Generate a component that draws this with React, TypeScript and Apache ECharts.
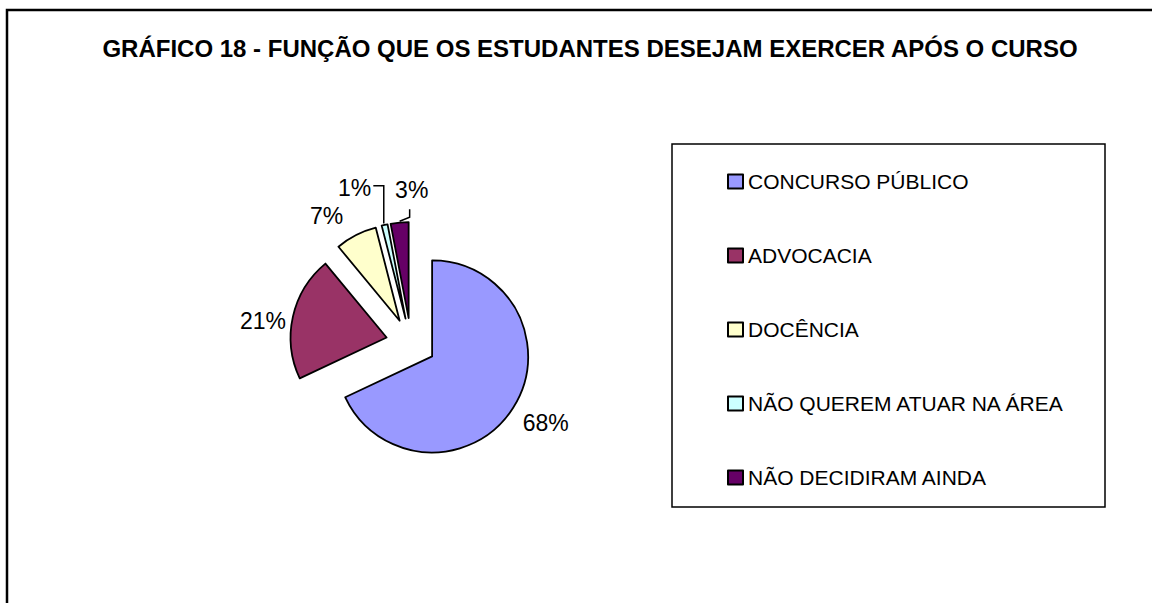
import React, { useEffect, useRef } from "react";
import * as echarts from "echarts";

const TITLE = "GRÁFICO 18 - FUNÇÃO QUE OS ESTUDANTES DESEJAM EXERCER APÓS O CURSO";
const categories = [
  "CONCURSO PÚBLICO",
  "ADVOCACIA",
  "DOCÊNCIA",
  "NÃO QUEREM ATUAR NA ÁREA",
  "NÃO DECIDIRAM AINDA",
];
const values = [68, 21, 7, 1, 3];
const colors = ["#9999FF", "#993366", "#FFFFCC", "#CCFFFF", "#660066"];
// label line tuning per slice: [length, length2, showLine]
const labelTuning: [number, number, boolean][] = [
  [29, -20, false],
  [-20, 21.5, false],
  [21.5, -2, false],
  [38, 0, true],
  [32.7, -36.8, true],
];

const FONT = "'Liberation Sans', Arial, Helvetica, sans-serif";

export default function App() {
  const ref = useRef<HTMLDivElement>(null);
  useEffect(() => {
    if (!ref.current) return;
    const chart = echarts.init(ref.current, null, { renderer: "svg" });
    const data = categories.map((name, i) => ({
      name,
      value: values[i],
      selected: true,
      itemStyle: { color: colors[i] },
      labelLine: {
        show: labelTuning[i][2],
        length: labelTuning[i][0],
        length2: labelTuning[i][1],
        lineStyle: { color: "#000", width: 1.5 },
      },
    }));
    chart.setOption({
      animation: false,
      backgroundColor: "#fff",
      graphic: [
        {
          type: "rect",
          shape: { x: 7, y: 10, width: 1170, height: 620 },
          style: { fill: "none", stroke: "#000", lineWidth: 2.5 },
          silent: true,
        },
        {
          type: "rect",
          shape: { x: 672, y: 144, width: 433, height: 363 },
          style: { fill: "none", stroke: "#000", lineWidth: 1.5 },
          silent: true,
        },
        {
          type: "text",
          x: 590,
          y: 48,
          style: {
            text: TITLE,
            align: "center",
            verticalAlign: "middle",
            font: `bold 24px ${FONT}`,
            fill: "#000",
          },
        },
      ],
      legend: {
        orient: "vertical",
        left: 727,
        top: 171,
        padding: 0,
        itemGap: 53,
        itemWidth: 15,
        itemHeight: 14,
        icon: "rect",
        selectedMode: false,
        data: categories,
        textStyle: {
          fontFamily: FONT,
          fontSize: 21,
          lineHeight: 21,
          color: "#000",
        },
      },
      series: [
        {
          type: "pie",
          center: [411, 343],
          radius: 96,
          startAngle: 90,
          clockwise: true,
          selectedMode: "multiple",
          selectedOffset: 25,
          avoidLabelOverlap: false,
          emphasis: { disabled: true, scale: false },
          itemStyle: { borderColor: "#000", borderWidth: 1.8 },
          label: {
            show: true,
            position: "outside",
            formatter: "{d}%",
            fontFamily: FONT,
            fontSize: 23,
            color: "#000",
            distanceToLabelLine: 5,
          },
          labelLayout: (params: any) => {
            const r = params.rect;
            const lr = params.labelRect;
            if (params.dataIndex === 3) {
              const x = r.x + 3;
              const y = lr.y + lr.height / 2 - 2;
              return {
                labelLinePoints: [
                  [x, r.y],
                  [x, y],
                  [lr.x + lr.width + 2, y],
                ],
              };
            }
            if (params.dataIndex === 4) {
              const x = r.x + r.width / 2;
              return {
                labelLinePoints: [
                  [x, r.y],
                  [x + 10, r.y - 4],
                  [x + 10, r.y - 12],
                ],
              };
            }
            return {};
          },
          data,
        },
      ],
    });
    return () => chart.dispose();
  }, []);
  return (
    <div
      ref={ref}
      style={{ position: "absolute", left: 0, top: 0, width: 1152, height: 603 }}
    />
  );
}
